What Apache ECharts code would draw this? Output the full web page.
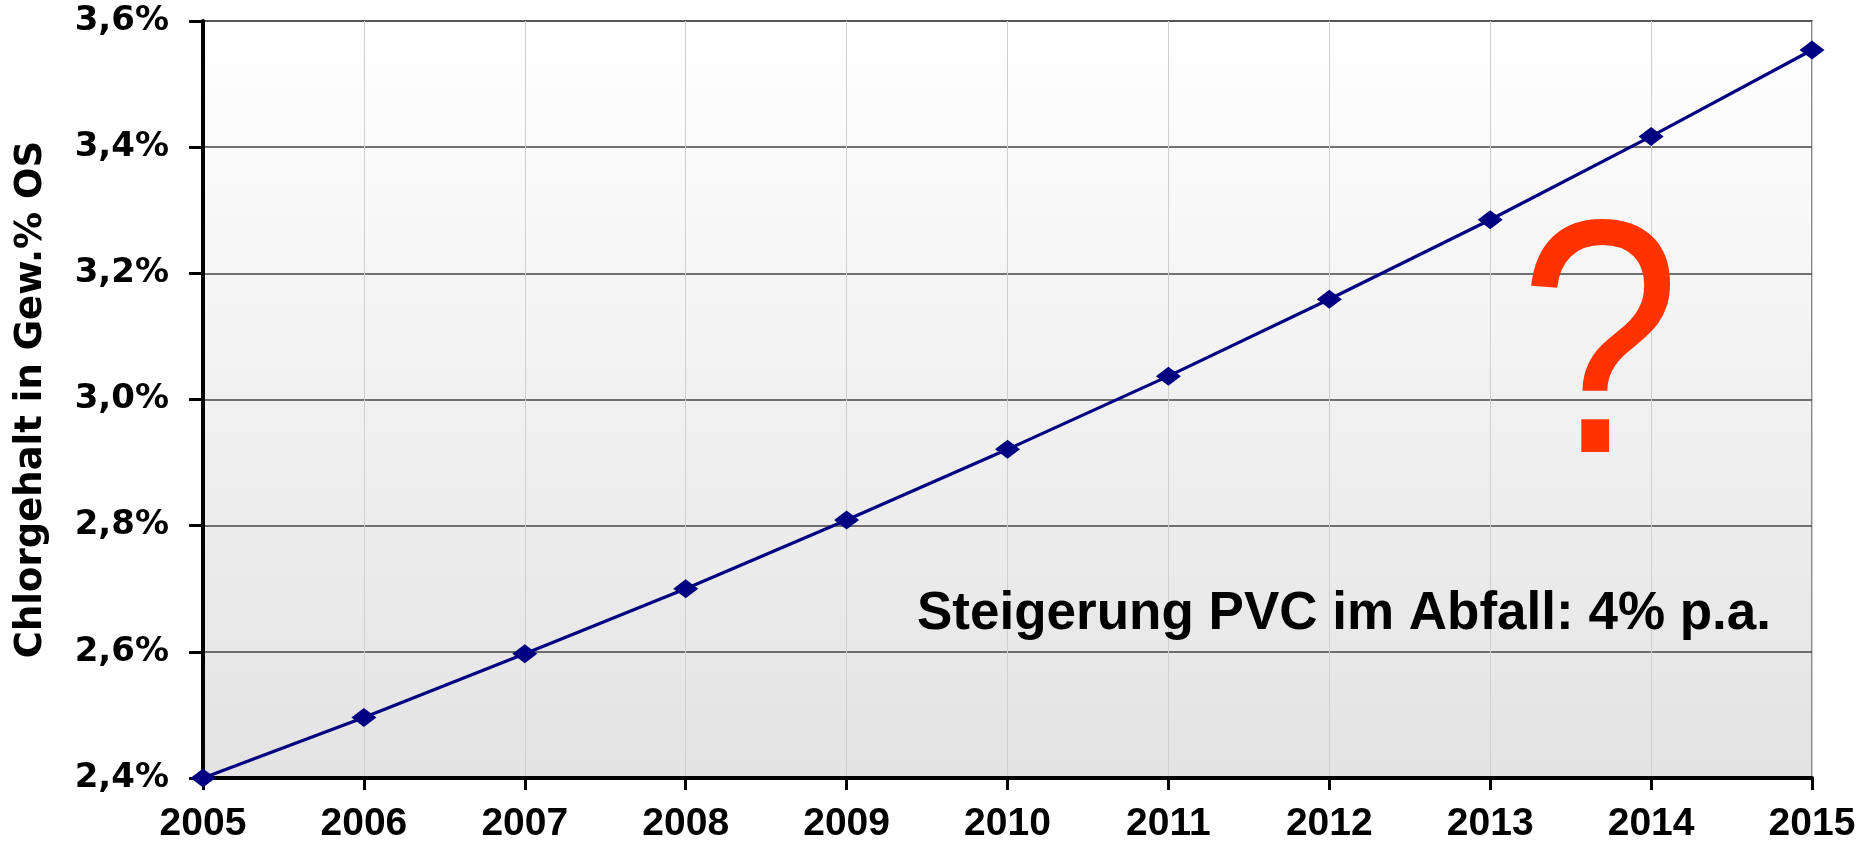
<!DOCTYPE html>
<html>
<head>
<meta charset="utf-8">
<title>Chlorgehalt</title>
<script src="https://cdn.jsdelivr.net/npm/echarts@6/dist/echarts.min.js"></script>
<style>
  html, body { margin: 0; padding: 0; background: #fff; }
  #chlorChart { width: 1863px; height: 842px; }
</style>
</head>
<body>
<div id="chlorChart"></div>
<script>
// values
const years = ["2005", "2006", "2007", "2008", "2009", "2010", "2011", "2012", "2013", "2014", "2015"];
const chlorContent = [2.40, 2.496, 2.597, 2.70, 2.809, 2.921, 3.037, 3.159, 3.285, 3.417, 3.554];
const axisMin = 2.4;
const axisMax = 3.6;
const axisStep = 0.2;
const yAxisTitle = "Chlorgehalt in Gew.% OS";
const noteText = "Steigerung PVC im Abfall: 4% p.a.";

function renderChart() {
  const chart = echarts.init(document.querySelector("#chlorChart"));

  const options = {
    animation: false,
    grid: {
      left: 203,
      right: 51,
      top: 21,
      bottom: 64,
      containLabel: false,
      outerBoundsMode: "none",
      show: true,
      borderColor: "#8a8a8a",
      borderWidth: 2,
      backgroundColor: new echarts.graphic.LinearGradient(0, 0, 0, 1, [
        { offset: 0, color: "#ffffff" },
        { offset: 1, color: "#e3e3e3" },
      ]),
    },
    xAxis: {
      type: "category",
      data: years,
      boundaryGap: false,
      axisLine: { lineStyle: { color: "#000", width: 4 } },
      axisTick: { alignWithLabel: true, length: 12, lineStyle: { color: "#000", width: 3 } },
      axisLabel: {
        margin: 27,
        color: "#000",
        fontFamily: "Liberation Sans",
        fontWeight: "bold",
        fontSize: 39,
      },
      splitLine: { show: true, lineStyle: { color: "#cfcfcf", width: 1 } },
    },
    yAxis: {
      type: "value",
      min: axisMin,
      max: axisMax,
      interval: axisStep,
      name: yAxisTitle,
      nameLocation: "middle",
      nameGap: 153,
      nameTextStyle: {
        color: "#000",
        fontFamily: "DejaVu Sans",
        fontWeight: "bold",
        fontSize: 37,
      },
      axisLine: { show: true, lineStyle: { color: "#000", width: 4 } },
      axisTick: { show: true, length: 14, lineStyle: { color: "#000", width: 3 } },
      axisLabel: {
        margin: 34,
        color: "#000",
        fontFamily: "DejaVu Sans",
        fontWeight: "bold",
        fontSize: 34,
        formatter: (v) => v.toFixed(1).replace(".", ",") + "%",
      },
      splitLine: { show: true, lineStyle: { color: "#444", width: 1.5 } },
    },
    series: [
      {
        type: "line",
        data: chlorContent,
        symbol: "diamond",
        symbolSize: [25, 19],
        itemStyle: { color: "#000080" },
        lineStyle: { color: "#000080", width: 3.2 },
        z: 5,
      },
    ],
    graphic: [
      {
        type: "text",
        x: 1600,
        y: 360,
        scaleX: 0.87,
        z: 10,
        style: {
          text: "?",
          x: 0,
          y: 0,
          align: "center",
          verticalAlign: "middle",
          font: "334px 'Liberation Sans', Arial, sans-serif",
          fill: "#ff3300",
        },
      },
      {
        type: "text",
        left: 917,
        top: 588,
        z: 10,
        style: {
          text: noteText,
          font: "bold 53px 'Liberation Sans', Arial, sans-serif",
          fill: "#000",
        },
      },
    ],
  };

  chart.setOption(options);
}

document.addEventListener("DOMContentLoaded", renderChart);
</script>
</body>
</html>
